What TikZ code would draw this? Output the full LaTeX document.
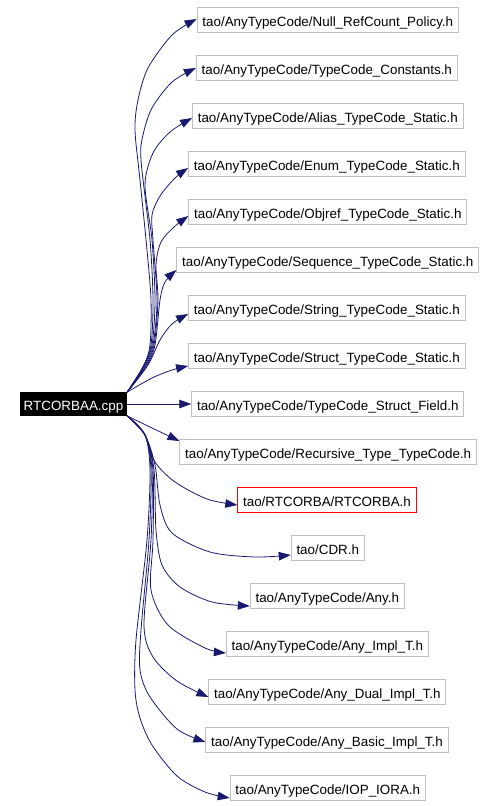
\documentclass[tikz,border=0pt]{standalone}
\usepackage{fontspec}
\setmainfont{Liberation Sans}
\usetikzlibrary{arrows.meta}
\definecolor{edgecol}{HTML}{191970}
\definecolor{boxgray}{HTML}{BFBFBF}
\tikzset{
  filebox/.style={draw=boxgray, line width=0.9pt, fill=white, inner xsep=5.3pt, inner ysep=0pt,
    minimum height=24.6pt, font=\fontsize{13.4}{15}\selectfont, text height=14pt, text depth=0.2pt},
  redbox/.style={filebox, draw=red},
  srcbox/.style={fill=black, text=white, inner sep=0pt, minimum width=107pt, minimum height=23.4pt,
    font=\fontsize{13.4}{15}\selectfont, text height=13.6pt, text depth=0.2pt},
  edge/.style={draw=edgecol, line width=0.8pt, -{Triangle[length=12pt,width=8.5pt]}},
  sm/.style={smooth, tension=0.5}
}
\begin{document}
\begin{tikzpicture}[x=1pt,y=-1pt]
\useasboundingbox (0,0) rectangle (496,806);
\node[srcbox] (src) at (73.5,404) {RTCORBAA.cpp};
\node[filebox] (n1) at (327.8,20) {tao/AnyTypeCode/Null\_RefCount\_Policy.h};
\node[filebox] (n2) at (326.8,68) {tao/AnyTypeCode/TypeCode\_Constants.h};
\node[filebox] (n3) at (327.8,116) {tao/AnyTypeCode/Alias\_TypeCode\_Static.h};
\node[filebox] (n4) at (326.8,164) {tao/AnyTypeCode/Enum\_TypeCode\_Static.h};
\node[filebox] (n5) at (327.8,212) {tao/AnyTypeCode/Objref\_TypeCode\_Static.h};
\node[filebox] (n6) at (327.8,260) {tao/AnyTypeCode/Sequence\_TypeCode\_Static.h};
\node[filebox] (n7) at (326.8,308) {tao/AnyTypeCode/String\_TypeCode\_Static.h};
\node[filebox] (n8) at (326.8,356) {tao/AnyTypeCode/Struct\_TypeCode\_Static.h};
\node[filebox] (n9) at (327.8,404) {tao/AnyTypeCode/TypeCode\_Struct\_Field.h};
\node[filebox] (n10) at (328.2,452) {tao/AnyTypeCode/Recursive\_Type\_TypeCode.h};
\node[redbox] (n11) at (327,500) {tao/RTCORBA/RTCORBA.h};
\node[filebox] (n12) at (327.8,548) {tao/CDR.h};
\node[filebox] (n13) at (327.3,596) {tao/AnyTypeCode/Any.h};
\node[filebox] (n14) at (327.3,644) {tao/AnyTypeCode/Any\_Impl\_T.h};
\node[filebox] (n15) at (327.3,692) {tao/AnyTypeCode/Any\_Dual\_Impl\_T.h};
\node[filebox] (n16) at (327,740) {tao/AnyTypeCode/Any\_Basic\_Impl\_T.h};
\node[filebox] (n17) at (327.8,788) {tao/AnyTypeCode/IOP\_IORA.h};

\draw[edge] plot[sm] coordinates {(src.north east) (143,367) (150,345) (151,300) (147,250) (140,180) (135,130) (138,100) (148,68) (172,35) (n1.west |- 0,19)};
\draw[edge] plot[sm] coordinates {(src.north east) (143,367) (151,345) (153,300) (150,240) (141,160) (143,135) (152,108) (172,82) (n2.west |- 0,68)};
\draw[edge] plot[sm] coordinates {(src.north east) (143,367) (152,345) (155,300) (152,240) (145,185) (153,153) (170,132) (n3.west |- 0,118)};
\draw[edge] plot[sm] coordinates {(src.north east) (144,367) (153,345) (157,300) (153,240) (152,215) (160,196) (175,178) (n4.west |- 0,168)};
\draw[edge] plot[sm] coordinates {(src.north east) (145,367) (154,345) (158,300) (156,265) (161,242) (174,227) (n5.west |- 0,216)};
\draw[edge] plot[sm] coordinates {(src.north east) (146,367) (155,345) (160,300) (165,282) (n6.west |- 0,270)};
\draw[edge] plot[sm] coordinates {(src.north east) (148,365) (160,340) (172,324) (n7.west |- 0,314)};
\draw[edge] plot[sm] coordinates {(src.north east) (152,378) (172,370) (n8.west |- 0,366)};
\draw[edge] (src.east) -- (n9.west);
\draw[edge] plot[sm] coordinates {(src.south east) (152,428) (n10.west |- 0,441)};
\draw[edge] plot[sm] coordinates {(src.south east) (145,435) (155,462) (175,482) (207,499) (n11.west |- 0,505)};
\draw[edge] plot[sm] coordinates {(src.south east) (145,435) (155,465) (160,505) (172,533) (210,552) (255,557) (n12.west |- 0,555)};
\draw[edge] plot[sm] coordinates {(src.south east) (145,435) (154,470) (156,530) (162,565) (180,587) (212,602) (n13.west |- 0,606)};
\draw[edge] plot[sm] coordinates {(src.south east) (145,435) (153,470) (153,540) (151,590) (168,625) (205,648) (n14.west |- 0,653)};
\draw[edge] plot[sm] coordinates {(src.south east) (145,435) (152,470) (151,540) (144,625) (153,657) (177,681) (n15.west |- 0,697)};
\draw[edge] plot[sm] coordinates {(src.south east) (145,435) (151,470) (149,540) (141,630) (140,670) (150,697) (177,729) (n16.west |- 0,742)};
\draw[edge] plot[sm] coordinates {(src.south east) (145,435) (150,470) (147,540) (136,640) (135,690) (140,718) (152,745) (177,776) (205,792) (n17.west |- 0,798)};
\end{tikzpicture}
\end{document}
